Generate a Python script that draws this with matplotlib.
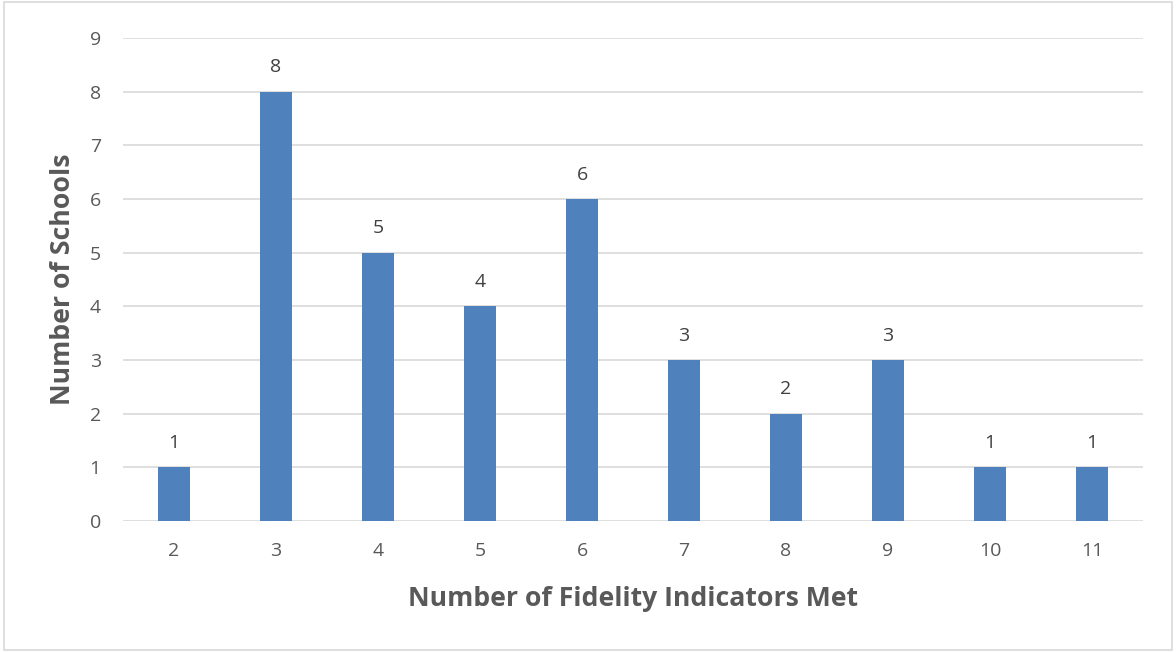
import matplotlib.pyplot as plt
from matplotlib.patches import Rectangle

indicators = ["2", "3", "4", "5", "6", "7", "8", "9", "10", "11"]
schools = [1, 8, 5, 4, 6, 3, 2, 3, 1, 1]

plt.rcParams["font.family"] = ["Open Sans", "DejaVu Sans"]

fig = plt.figure(figsize=(11.76, 6.52), dpi=100)
ax = fig.add_axes([0.1046, 0.2009, 0.8674, 0.7408])

x = range(len(indicators))
bars = ax.bar(x, schools, width=0.31, color="#4f81bd", zorder=3)

# value labels above each bar
for b, v in zip(bars, schools):
    ax.annotate(str(v), (b.get_x() + b.get_width() / 2, v),
                xytext=(0, 11), textcoords="offset points",
                ha="center", va="bottom", fontsize=14, color="#404040")

ax.set_xlim(-0.5, len(indicators) - 0.5)
ax.set_ylim(0, 9)
ax.set_yticks(range(0, 10))
ax.set_xticks(list(x))
ax.set_xticklabels(indicators)
ax.yaxis.grid(True, color="#d9d9d9", linewidth=1.2, zorder=0)
ax.tick_params(axis="both", length=0, labelsize=14, labelcolor="#595959")
ax.tick_params(axis="y", pad=16)
ax.tick_params(axis="x", pad=15)
for s in ax.spines.values():
    s.set_visible(False)

ax.set_xlabel("Number of Fidelity Indicators Met", fontsize=19.2,
              fontweight="bold", color="#595959", labelpad=19)
ax.set_ylabel("Number of Schools", fontsize=19.2,
              fontweight="bold", color="#595959", labelpad=10)

# thin frame round the whole chart
fig.patches.append(Rectangle((0.003, 0.003), 0.994, 0.994, transform=fig.transFigure,
                             fill=False, edgecolor="#d9d9d9", linewidth=1.2))

fig.savefig("out.png", dpi=100)
